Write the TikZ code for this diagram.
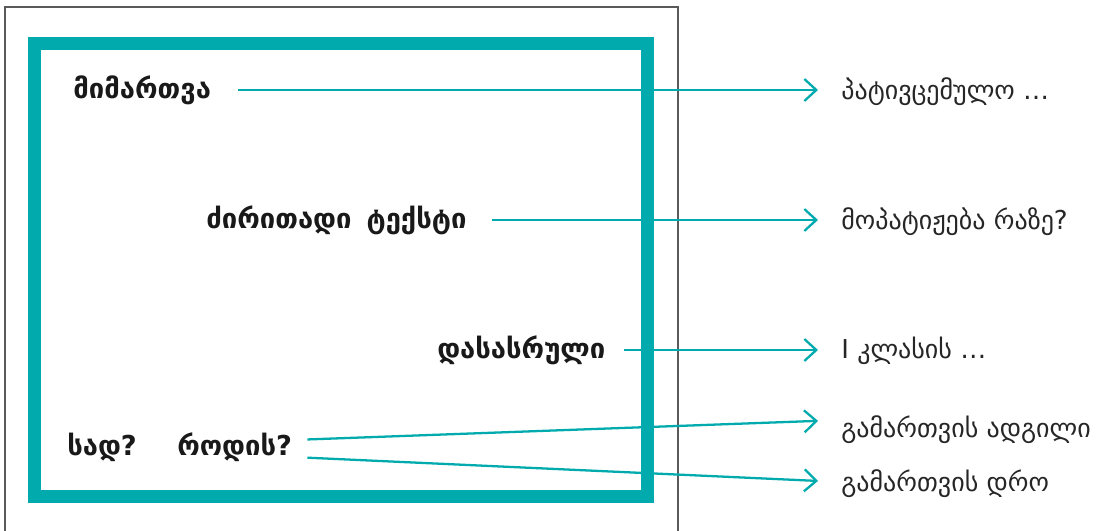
\documentclass[tikz,border=0pt]{standalone}
\usepackage{fontspec}
\setmainfont{DejaVu Sans}
\usepackage{xcolor}
\usepackage{tikz}
\usetikzlibrary{arrows.meta,positioning}
\definecolor{letterteal}{RGB}{0,170,173}
\definecolor{sheetgray}{RGB}{90,90,90}

\begin{document}
\begin{tikzpicture}[
x=0.02cm, y=-0.02cm,
font=\fontsize{14.8}{17}\selectfont,
part/.style={font=\fontsize{15.6}{18}\selectfont\bfseries, inner sep=0pt, anchor=west, text=black!90},
hint/.style={inner sep=0pt, anchor=west, text=black!85},
arr/.style={-{Straight Barb[length=2.4mm,width=4.4mm]}, letterteal, line width=1.3pt, shorten >=0.46cm}
]
\useasboundingbox (0,0) rectangle (1096,531);
% sheet and letter frame
\draw[sheetgray, line width=0.6pt] (5,531) -- (5,7) -- (678,7) -- (678,531);
\draw[letterteal, line width=0.26cm] (34.5,43.5) rectangle (647.5,496.5);
% parts of the letter
\node[part] (mimartva) at (73,90) {მიმართვა};
\node[part] (ziritadi) at (206,220) {ძირითადი\hspace{0.55em}ტექსტი};
\node[part] (dasasruli) at (437,350) {დასასრული};
\node[part] (sad) at (67,447) {სად?};
\node[part] (rodis) at (177,447) {როდის?};
% what goes in them
\node[hint] (pativ) at (841,92) {პატივცემულო …};
\node[hint] (mopat) at (841,222) {მოპატიჟება რაზე?};
\node[hint] (klasi) at (841,351) {I კლასის …};
\node[hint] (adgili) at (841,430) {გამართვის ადგილი};
\node[hint] (dro) at (841,484) {გამართვის დრო};
\draw[arr, shorten <=0.54cm] (mimartva.east) -- (pativ.west |- mimartva.east);
\draw[arr, shorten <=0.5cm] (ziritadi.east) -- (mopat.west |- ziritadi.east);
\draw[arr, shorten <=0.36cm] (dasasruli.east) -- (klasi.west |- dasasruli.east);
\draw[arr, shorten <=0.3cm] ([yshift=0.14cm]rodis.east) -- ([yshift=0.2cm]adgili.west);
\draw[arr, shorten <=0.3cm] ([yshift=-0.2cm]rodis.east) -- ([yshift=0.04cm]dro.west);
\end{tikzpicture}
\end{document}
